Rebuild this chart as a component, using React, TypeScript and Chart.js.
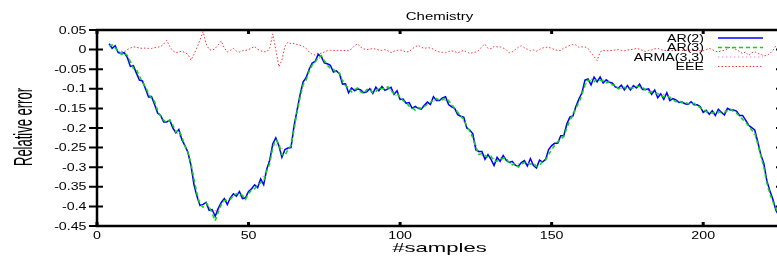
import React, { useEffect, useRef } from "react";
import { Chart, registerables } from "chart.js";
Chart.register(...registerables);

const chartTitle = "Chemistry";
const xTitle = "#samples";
const yTitle = "Relative error";
const xTickValues = [0, 50, 100, 150, 200];
const xTickLabels = ["0", "50", "100", "150", "200"];
const yTickValues = [0.05, 0, -0.05, -0.1, -0.15, -0.2, -0.25, -0.3, -0.35, -0.4, -0.45];
const yTickLabels = ["0.05", "0", "-0.05", "-0.1", "-0.15", "-0.2", "-0.25", "-0.3", "-0.35", "-0.4", "-0.45"];
const seriesNames = ["AR(2)", "AR(3)", "ARMA(3,3)", "EEE"];

// AR(2): samples 4..225
const ar2Start = 4;
const ar2 = [
  0.015, 0.003, 0.010, -0.008, -0.010, -0.008, -0.020, -0.043, -0.041, -0.060,
  -0.078, -0.080, -0.100, -0.121, -0.120, -0.140, -0.162, -0.168, -0.185, -0.185,
  -0.180, -0.200, -0.212, -0.204, -0.230, -0.245, -0.262, -0.295, -0.345, -0.375,
  -0.398, -0.395, -0.390, -0.410, -0.408, -0.425, -0.405, -0.390, -0.380, -0.395,
  -0.378, -0.368, -0.374, -0.362, -0.380, -0.378, -0.362, -0.355, -0.345, -0.352,
  -0.330, -0.345, -0.305, -0.282, -0.240, -0.225, -0.245, -0.275, -0.255, -0.251,
  -0.250, -0.195, -0.155, -0.115, -0.082, -0.072, -0.050, -0.034, -0.030, -0.012,
  -0.018, -0.034, -0.036, -0.040, -0.057, -0.054, -0.062, -0.088, -0.087, -0.110,
  -0.098, -0.105, -0.100, -0.103, -0.110, -0.108, -0.100, -0.112, -0.096, -0.105,
  -0.094, -0.104, -0.100, -0.096, -0.114, -0.105, -0.127, -0.126, -0.137, -0.135,
  -0.150, -0.145, -0.150, -0.152, -0.142, -0.134, -0.140, -0.120, -0.130, -0.130,
  -0.123, -0.120, -0.140, -0.146, -0.150, -0.166, -0.170, -0.172, -0.200, -0.205,
  -0.215, -0.256, -0.260, -0.260, -0.280, -0.268, -0.280, -0.296, -0.275, -0.285,
  -0.270, -0.282, -0.288, -0.285, -0.295, -0.298, -0.288, -0.283, -0.297, -0.278,
  -0.296, -0.302, -0.282, -0.287, -0.280, -0.255, -0.245, -0.239, -0.239, -0.220,
  -0.220, -0.190, -0.172, -0.170, -0.145, -0.126, -0.110, -0.078, -0.075, -0.090,
  -0.070, -0.082, -0.070, -0.085, -0.077, -0.083, -0.085, -0.095, -0.098, -0.091,
  -0.103, -0.092, -0.103, -0.092, -0.098, -0.088, -0.102, -0.102, -0.100, -0.114,
  -0.103, -0.123, -0.113, -0.127, -0.110, -0.130, -0.125, -0.128, -0.135, -0.134,
  -0.138, -0.140, -0.133, -0.141, -0.141, -0.145, -0.160, -0.155, -0.165, -0.156,
  -0.168, -0.152, -0.160, -0.167, -0.150, -0.154, -0.154, -0.157, -0.168, -0.168,
  -0.180, -0.193, -0.199, -0.205, -0.235, -0.268, -0.290, -0.335, -0.360, -0.382,
  -0.410, -0.425,
];

// AR(3): samples 4..225
const ar3Start = 4;
const ar3 = [
  0.010, 0.012, 0.004, -0.004, -0.012, -0.008, -0.015, -0.030, -0.048, -0.050,
  -0.068, -0.083, -0.095, -0.112, -0.125, -0.132, -0.155, -0.170, -0.180, -0.186,
  -0.180, -0.192, -0.210, -0.205, -0.222, -0.245, -0.262, -0.290, -0.330, -0.368,
  -0.395, -0.402, -0.392, -0.400, -0.418, -0.437, -0.415, -0.395, -0.385, -0.385,
  -0.382, -0.372, -0.368, -0.365, -0.372, -0.382, -0.368, -0.358, -0.355, -0.345,
  -0.340, -0.335, -0.310, -0.290, -0.250, -0.230, -0.240, -0.268, -0.270, -0.255,
  -0.245, -0.205, -0.160, -0.122, -0.090, -0.078, -0.055, -0.040, -0.032, -0.020,
  -0.015, -0.028, -0.040, -0.048, -0.050, -0.060, -0.060, -0.080, -0.092, -0.098,
  -0.108, -0.102, -0.098, -0.108, -0.112, -0.102, -0.100, -0.110, -0.108, -0.096,
  -0.100, -0.100, -0.095, -0.105, -0.112, -0.112, -0.122, -0.130, -0.135, -0.144,
  -0.148, -0.155, -0.148, -0.150, -0.145, -0.140, -0.135, -0.128, -0.125, -0.130,
  -0.128, -0.124, -0.130, -0.140, -0.150, -0.160, -0.170, -0.178, -0.195, -0.208,
  -0.225, -0.250, -0.268, -0.265, -0.270, -0.275, -0.272, -0.285, -0.285, -0.280,
  -0.278, -0.276, -0.290, -0.294, -0.290, -0.300, -0.292, -0.288, -0.290, -0.292,
  -0.290, -0.298, -0.296, -0.285, -0.282, -0.268, -0.255, -0.245, -0.235, -0.228,
  -0.222, -0.200, -0.180, -0.168, -0.150, -0.135, -0.115, -0.090, -0.078, -0.080,
  -0.082, -0.075, -0.078, -0.080, -0.085, -0.082, -0.090, -0.090, -0.100, -0.098,
  -0.096, -0.100, -0.098, -0.097, -0.094, -0.094, -0.096, -0.104, -0.108, -0.108,
  -0.112, -0.112, -0.118, -0.120, -0.118, -0.122, -0.128, -0.133, -0.130, -0.136,
  -0.134, -0.138, -0.140, -0.137, -0.142, -0.148, -0.152, -0.158, -0.160, -0.162,
  -0.160, -0.158, -0.162, -0.160, -0.156, -0.152, -0.158, -0.162, -0.170, -0.178,
  -0.185, -0.195, -0.205, -0.212, -0.240, -0.270, -0.300, -0.340, -0.368, -0.388,
  -0.405, -0.418,
];

// ARMA(3,3): every second sample, 4..224
const armaStart = 4;
const armaStep = 2;
const arma = [
  0.012, 0.006, -0.010, -0.016, -0.044, -0.072, -0.098, -0.122, -0.158, -0.182,
  -0.182, -0.210, -0.226, -0.262, -0.338, -0.396, -0.392, -0.412, -0.410, -0.383,
  -0.380, -0.370, -0.376, -0.365, -0.350, -0.335, -0.308, -0.245, -0.242, -0.262,
  -0.248, -0.158, -0.086, -0.052, -0.031, -0.017, -0.038, -0.053, -0.061, -0.090,
  -0.103, -0.099, -0.111, -0.100, -0.102, -0.097, -0.097, -0.113, -0.124, -0.136,
  -0.149, -0.149, -0.143, -0.137, -0.127, -0.125, -0.135, -0.150, -0.170, -0.197,
  -0.220, -0.264, -0.275, -0.276, -0.280, -0.274, -0.289, -0.292, -0.290, -0.293,
  -0.293, -0.289, -0.281, -0.250, -0.237, -0.221, -0.176, -0.148, -0.112, -0.076,
  -0.076, -0.074, -0.081, -0.088, -0.099, -0.099, -0.100, -0.096, -0.099, -0.104,
  -0.108, -0.115, -0.114, -0.126, -0.132, -0.136, -0.137, -0.141, -0.156, -0.162,
  -0.164, -0.161, -0.153, -0.156, -0.169, -0.182, -0.202, -0.238, -0.295, -0.364,
  -0.408,
];

// EEE: samples 8..225
const eeeStart = 8;
const eee = [
  -0.004, -0.006, 0.000, 0.004, 0.007, 0.006, 0.004, 0.003, 0.004, 0.003,
  0.003, 0.005, 0.006, 0.008, 0.014, 0.024, 0.008, -0.003, -0.008, -0.006,
  -0.004, -0.008, -0.012, -0.027, -0.012, 0.005, 0.025, 0.046, 0.015, 0.000,
  -0.002, 0.003, 0.012, 0.022, 0.004, -0.006, -0.002, 0.003, -0.004, -0.006,
  -0.003, -0.002, 0.000, 0.004, 0.008, 0.001, -0.003, -0.005, -0.006, 0.004,
  0.040, 0.000, -0.044, -0.027, 0.008, 0.019, 0.015, 0.016, 0.013, 0.011,
  0.008, 0.003, -0.006, -0.012, -0.014, -0.008, -0.010, -0.006, -0.003, -0.002,
  -0.002, -0.003, -0.002, -0.003, -0.002, -0.003, 0.002, 0.010, 0.015, 0.006,
  0.002, 0.000, 0.001, 0.003, 0.001, -0.001, -0.002, 0.000, -0.003, -0.008,
  -0.004, -0.002, -0.001, -0.003, -0.006, -0.005, 0.002, 0.007, 0.011, 0.006,
  0.003, 0.005, 0.004, 0.001, -0.004, -0.006, -0.007, -0.008, -0.005, -0.003,
  -0.005, -0.008, -0.005, -0.002, -0.006, -0.010, -0.008, -0.006, -0.002, 0.008,
  0.014, 0.003, 0.002, 0.008, 0.007, 0.007, 0.004, 0.000, -0.008, -0.006,
  0.000, 0.006, 0.010, 0.005, 0.001, -0.003, -0.001, -0.004, 0.000, 0.004,
  0.006, 0.006, 0.003, 0.000, -0.002, -0.002, 0.004, 0.007, 0.011, 0.013,
  0.012, 0.006, 0.007, 0.007, 0.003, -0.008, -0.018, -0.028, -0.006, -0.002,
  -0.003, -0.003, -0.002, -0.001, 0.000, -0.002, -0.003, -0.001, 0.000, 0.001,
  0.003, 0.001, -0.002, -0.005, -0.002, -0.001, 0.002, 0.003, 0.000, -0.002,
  -0.002, -0.003, -0.002, -0.002, -0.001, -0.002, -0.002, -0.001, -0.002, -0.002,
  -0.003, -0.003, -0.003, 0.000, 0.003, 0.000, -0.004, -0.006, -0.003, -0.002,
  0.002, 0.007, 0.003, 0.000, -0.005, -0.010, -0.006, -0.015, -0.008, -0.005,
  -0.010, -0.012, -0.016, -0.015, -0.010, -0.002, 0.010, 0.012,
];

const FONT = '"Liberation Sans", Arial, Helvetica, sans-serif';

function drawText(
  ctx: CanvasRenderingContext2D,
  text: string,
  x: number,
  y: number,
  size: number,
  sx: number,
  sy: number,
  align: CanvasTextAlign,
  rotate = false
) {
  ctx.save();
  ctx.translate(x, y);
  if (rotate) ctx.rotate(-Math.PI / 2);
  ctx.scale(sx, sy);
  ctx.font = `${size}px ${FONT}`;
  ctx.fillStyle = "#000";
  ctx.textAlign = align;
  ctx.textBaseline = "alphabetic";
  ctx.fillText(text, 0, 0);
  ctx.restore();
}

const framePlugin = {
  id: "gnuplotFrame",
  afterDraw(chart: any) {
    const ctx: CanvasRenderingContext2D = chart.ctx;
    const { left, right, top, bottom } = chart.chartArea;
    const xs = chart.scales.x;
    const ys = chart.scales.y;

    ctx.save();
    ctx.strokeStyle = "#000";
    ctx.lineWidth = 2.5;
    ctx.strokeRect(left, top, right - left, bottom - top);

    // y ticks
    ctx.lineWidth = 2;
    yTickValues.forEach((v, i) => {
      const py = ys.getPixelForValue(v);
      ctx.beginPath();
      ctx.moveTo(left - 8, py);
      ctx.lineTo(left + 6, py);
      ctx.moveTo(right - 6, py);
      ctx.lineTo(right, py);
      ctx.stroke();
      drawText(ctx, yTickLabels[i], 86.5, py + 3.6, 10, 1.42, 1, "right");
    });
    // x ticks
    ctx.lineWidth = 3;
    xTickValues.forEach((v, i) => {
      const px = xs.getPixelForValue(v);
      ctx.beginPath();
      ctx.moveTo(px, bottom);
      ctx.lineTo(px, bottom - 4);
      ctx.moveTo(px, top);
      ctx.lineTo(px, top + 4);
      ctx.stroke();
      drawText(ctx, xTickLabels[i], px, 238.5, 10, 1.42, 1, "center");
    });
    ctx.restore();

    const cx = (left + right) / 2;
    drawText(ctx, chartTitle, cx, 19.5, 10, 1.5, 1, "center");
    drawText(ctx, xTitle, cx, 251.5, 13, 1.7, 1, "center");
    drawText(ctx, yTitle, 32, 127, 13, 1, 2.0, "center", true);

    // legend
    const rowsY = [38, 47.5, 57, 66.5];
    chart.data.datasets.forEach((ds: any, i: number) => {
      const ry = rowsY[ds.legendRow];
      drawText(ctx, ds.label, 704, ry + 3.6, 10, 1.42, 1, "right");
      ctx.save();
      ctx.strokeStyle = ds.borderColor;
      ctx.lineWidth = ds.borderWidth;
      ctx.setLineDash(ds.borderDash || []);
      ctx.beginPath();
      ctx.moveTo(718, ry);
      ctx.lineTo(763, ry);
      ctx.stroke();
      ctx.restore();
    });
  },
};

function toPoints(values: number[], start: number, step = 1) {
  return values.map((y, i) => ({ x: start + i * step, y }));
}

export default function App() {
  const ref = useRef<HTMLCanvasElement | null>(null);

  useEffect(() => {
    if (!ref.current) return;
    const chart = new Chart(ref.current, {
      type: "line",
      data: {
        datasets: [
          {
            label: seriesNames[0],
            data: toPoints(ar2, ar2Start),
            borderColor: "#0000ff",
            borderWidth: 1.5,
            pointRadius: 0,
            tension: 0,
            order: 4,
            legendRow: 0,
          } as any,
          {
            label: seriesNames[1],
            data: toPoints(ar3, ar3Start),
            borderColor: "#00e000",
            borderWidth: 1.5,
            borderDash: [4, 3],
            pointRadius: 0,
            tension: 0,
            order: 3,
            legendRow: 1,
          } as any,
          {
            label: seriesNames[2],
            data: toPoints(arma, armaStart, armaStep),
            borderColor: "#ee88ee",
            borderWidth: 1.2,
            borderDash: [1.5, 2.5],
            pointRadius: 0,
            tension: 0,
            order: 5,
            legendRow: 2,
          } as any,
          {
            label: seriesNames[3],
            data: toPoints(eee, eeeStart),
            borderColor: "#ff3030",
            borderWidth: 1,
            borderDash: [1.5, 2],
            pointRadius: 0,
            tension: 0,
            order: 1,
            legendRow: 3,
          } as any,
        ],
      },
      options: {
        animation: false,
        responsive: false,
        devicePixelRatio: 1,
        parsing: true,
        layout: { padding: { left: 97, right: 3, top: 30, bottom: 35 } },
        plugins: {
          legend: { display: false },
          tooltip: { enabled: false },
          title: { display: false },
        },
        scales: {
          x: { type: "linear", min: 0, max: 226, display: false },
          y: { type: "linear", min: -0.45, max: 0.05, display: false },
        },
      },
      plugins: [framePlugin],
    });
    return () => chart.destroy();
  }, []);

  return (
    <div
      style={{
        position: "fixed",
        left: 0,
        top: 0,
        width: 777,
        height: 261,
        overflow: "hidden",
        background: "#fff",
      }}
    >
      <canvas ref={ref} width={785} height={261} style={{ display: "block" }} />
    </div>
  );
}
